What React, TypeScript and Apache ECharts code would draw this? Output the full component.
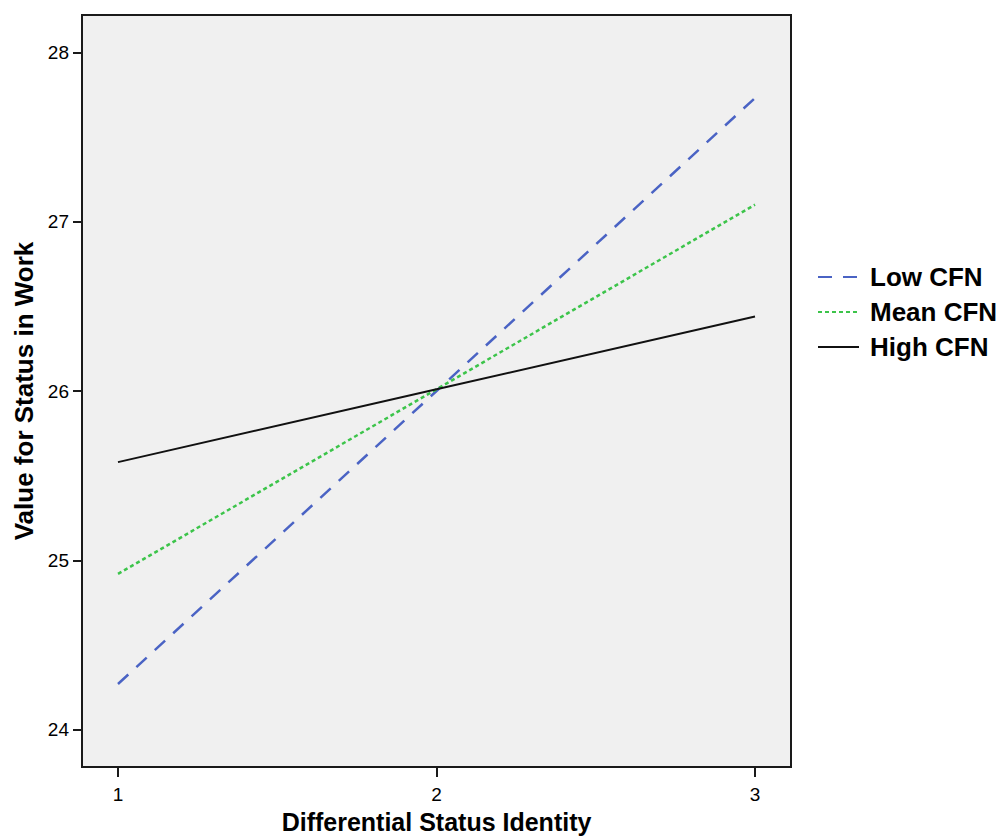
import React, { useEffect, useRef } from "react";
import * as echarts from "echarts";

const xValues = [1, 2, 3];
const lowCFN = [24.27, 26.0, 27.73];
const meanCFN = [24.92, 26.01, 27.1];
const highCFN = [25.58, 26.01, 26.44];
const yTicks = [24, 25, 26, 27, 28];
const xTicks = [1, 2, 3];
const seriesNames = ["Low CFN", "Mean CFN", "High CFN"];

const FONT = "'Liberation Sans', Arial, sans-serif";

export default function App() {
  const ref = useRef<HTMLDivElement>(null);
  useEffect(() => {
    if (!ref.current) return;
    const chart = echarts.init(ref.current, undefined, { renderer: "svg" });
    const pair = (ys: number[]) => xValues.map((x, i) => [x, ys[i]]);
    chart.setOption({
      animation: false,
      backgroundColor: "#ffffff",
      textStyle: { fontFamily: FONT },
      grid: {
        left: 82,
        top: 15,
        right: 215,
        bottom: 70,
        outerBoundsMode: "none",
        containLabel: false,
        show: true,
        backgroundColor: "#f0f0f0",
        borderColor: "#1a1a1a",
        borderWidth: 2,
      },
      legend: {
        orient: "vertical",
        left: 812,
        top: 259,
        itemWidth: 41,
        itemHeight: 14,
        itemGap: 9,
        data: seriesNames,
        itemStyle: { opacity: 0 },
        textStyle: {
          fontFamily: FONT,
          fontSize: 26,
          fontWeight: "bold",
          color: "#000",
          padding: [0, 0, 0, 6],
        },
      },
      xAxis: {
        type: "value",
        min: 0.887,
        max: 3.113,
        name: "Differential Status Identity",
        nameLocation: "middle",
        nameGap: 42,
        nameTextStyle: {
          fontFamily: FONT,
          fontSize: 25,
          fontWeight: "bold",
          color: "#000",
        },
        axisLine: { show: true, lineStyle: { color: "#1a1a1a", width: 2 } },
        axisTick: {
          show: true,
          customValues: xTicks,
          length: 10,
          lineStyle: { color: "#1a1a1a", width: 2 },
        },
        axisLabel: {
          customValues: xTicks,
          fontFamily: FONT,
          fontSize: 19,
          color: "#000",
          margin: 18,
        },
        splitLine: { show: false },
      },
      yAxis: {
        type: "value",
        min: 23.78,
        max: 28.22,
        name: "Value for Status in Work",
        nameLocation: "middle",
        nameGap: 37,
        nameTextStyle: {
          fontFamily: FONT,
          fontSize: 26,
          fontWeight: "bold",
          color: "#000",
        },
        axisLine: { show: true, lineStyle: { color: "#1a1a1a", width: 2 } },
        axisTick: {
          show: true,
          customValues: yTicks,
          length: 9,
          lineStyle: { color: "#1a1a1a", width: 2 },
        },
        axisLabel: {
          customValues: yTicks,
          fontFamily: FONT,
          fontSize: 19,
          color: "#000",
          margin: 13,
        },
        splitLine: { show: false },
      },
      series: [
        {
          name: seriesNames[0],
          type: "line",
          data: pair(lowCFN),
          symbol: "none",
          color: "#4a63c4",
          lineStyle: { color: "#4a63c4", width: 2.5, type: [14, 11] },
        },
        {
          name: seriesNames[1],
          type: "line",
          data: pair(meanCFN),
          symbol: "none",
          color: "#3cc44a",
          lineStyle: { color: "#3cc44a", width: 2.5, type: [4, 3] },
        },
        {
          name: seriesNames[2],
          type: "line",
          data: pair(highCFN),
          symbol: "none",
          color: "#111111",
          lineStyle: { color: "#111111", width: 2 },
        },
      ],
    });
    return () => chart.dispose();
  }, []);
  return (
    <div
      ref={ref}
      style={{ position: "fixed", left: 0, top: 0, width: 1006, height: 837 }}
    />
  );
}
